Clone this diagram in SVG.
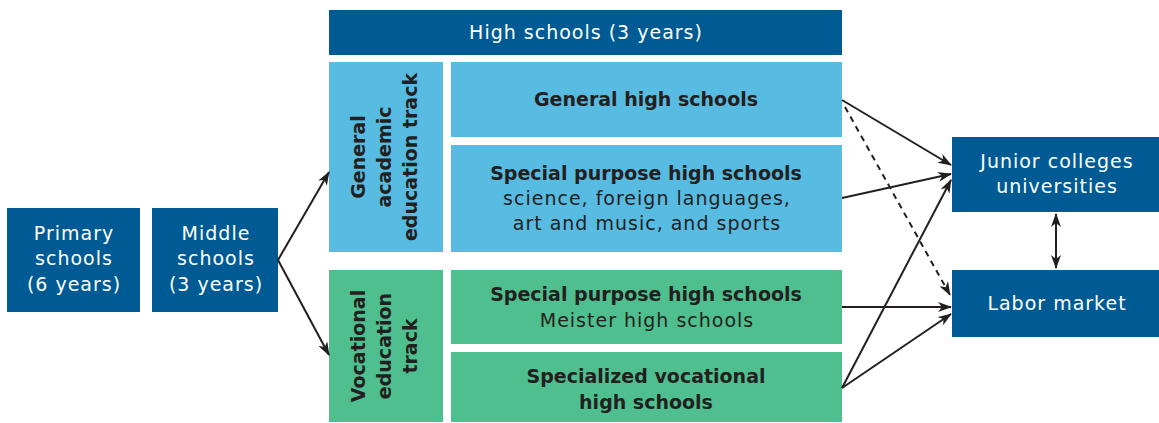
<svg xmlns="http://www.w3.org/2000/svg" width="1159" height="423" viewBox="0 0 1159 423">
<style>
.dark{fill:#005B94}
.lb{fill:#57BBE2}
.gr{fill:#4FBF8F}
text{font-family:"DejaVu Sans","Open Sans",sans-serif;font-size:19px;text-anchor:middle;letter-spacing:1px}
.w{fill:#ffffff}
.k{fill:#231F20}
.b{font-weight:bold;letter-spacing:0}
.c{stroke:#231F20;stroke-width:2;fill:none}
</style>
<defs>
<marker id="ah" viewBox="0 0 14 10" refX="13" refY="5" markerWidth="14" markerHeight="10" markerUnits="userSpaceOnUse" orient="auto-start-reverse">
<path d="M0,0 L14,5 L0,10 L4,5 Z" fill="#231F20"/>
</marker>
</defs>
<g id="primary"><rect class="dark" x="7" y="208" width="133" height="104"/>
<text class="w" x="74" y="240">Primary</text><text class="w" x="74" y="265">schools</text><text class="w" x="74" y="291">(6 years)</text></g>
<g id="middle"><rect class="dark" x="152" y="208" width="126" height="104"/>
<text class="w" x="216" y="240">Middle</text><text class="w" x="216" y="265">schools</text><text class="w" x="216" y="291">(3 years)</text></g>
<g id="high"><rect class="dark" x="329" y="10" width="513" height="45"/>
<text class="w" x="586" y="39">High schools (3 years)</text></g>
<g id="general-track"><rect class="lb" x="329" y="62" width="114" height="190"/>
<g transform="translate(386,157) rotate(-90)"><text class="k b" x="0" y="-21">General</text><text class="k b" x="0" y="5">academic</text><text class="k b" x="0" y="31">education track</text></g></g>
<g id="vocational-track"><rect class="gr" x="329" y="270" width="114" height="152"/>
<g transform="translate(386,346) rotate(-90)"><text class="k b" x="0" y="-21">Vocational</text><text class="k b" x="0" y="5">education</text><text class="k b" x="0" y="31">track</text></g></g>
<g id="general-hs"><rect class="lb" x="451" y="62" width="391" height="75"/>
<text class="k b" x="646" y="106">General high schools</text></g>
<g id="special-blue"><rect class="lb" x="451" y="145" width="391" height="107"/>
<text class="k b" x="646" y="180">Special purpose high schools</text><text class="k" x="647" y="205">science, foreign languages,</text><text class="k" x="647" y="230">art and music, and sports</text></g>
<g id="special-green"><rect class="gr" x="451" y="270" width="391" height="74"/>
<text class="k b" x="646" y="301">Special purpose high schools</text><text class="k" x="647" y="327">Meister high schools</text></g>
<g id="specialized"><rect class="gr" x="451" y="352" width="391" height="70"/>
<text class="k b" x="646" y="383">Specialized vocational</text><text class="k b" x="646" y="409">high schools</text></g>
<g id="junior"><rect class="dark" x="952" y="137" width="207" height="75"/>
<text class="w" x="1057" y="168">Junior colleges</text><text class="w" x="1057" y="193">universities</text></g>
<g id="labor"><rect class="dark" x="952" y="270" width="207" height="67"/>
<text class="w" x="1057" y="310">Labor market</text></g>
<g id="connectors">
<path class="c" d="M278,260 L329,172" marker-end="url(#ah)"/>
<path class="c" d="M278,260 L329,355" marker-end="url(#ah)"/>
<path class="c" d="M842,100 L951,165" marker-end="url(#ah)"/>
<path class="c" d="M845,107 L950,295" stroke-dasharray="6,5" marker-end="url(#ah)"/>
<path class="c" d="M842,198 L951,174" marker-end="url(#ah)"/>
<path class="c" d="M842,307 L951,307" marker-end="url(#ah)"/>
<path class="c" d="M842,388 L951,180" marker-end="url(#ah)"/>
<path class="c" d="M842,388 L951,314" marker-end="url(#ah)"/>
<path class="c" d="M1056,214 L1056,268" marker-start="url(#ah)" marker-end="url(#ah)"/>
</g>
</svg>
